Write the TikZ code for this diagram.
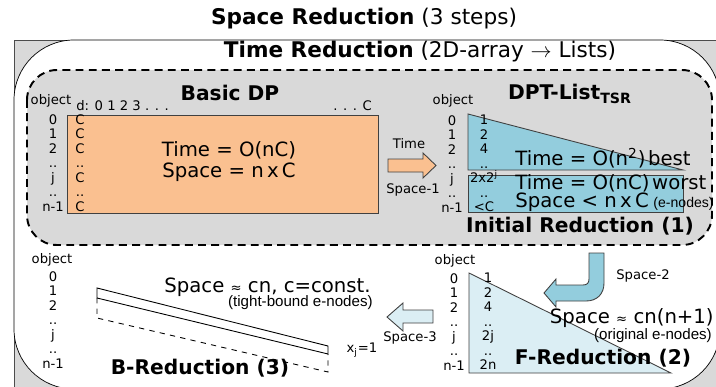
\documentclass[tikz,border=0pt]{standalone}
\usepackage{fontspec}
\setmainfont{DejaVu Sans}
\newfontfamily\notefont{Liberation Sans}
\definecolor{boxgray}{HTML}{D9D9D9}
\definecolor{dporange}{HTML}{FAC090}
\definecolor{listblue}{HTML}{93CDDD}
\definecolor{paleblue}{HTML}{DBEEF4}
\tikzset{
	head/.style={font=\fontsize{12.3}{14}\selectfont,inner sep=0pt},
	part/.style={font=\fontsize{11.5}{13}\selectfont\bfseries,inner sep=0pt},
	big/.style={font=\fontsize{11.2}{12}\selectfont,inner sep=0pt},
	lbl/.style={font=\fontsize{7.5}{8.25}\selectfont,inner sep=0pt},
	note/.style={font=\notefont\fontsize{8.6}{10}\selectfont,inner sep=0pt},
	rows/.style={lbl,align=center,anchor=north},
	outline/.style={draw=black!75,line width=0.5pt},
}
\begin{document}
\begin{tikzpicture}[x=0.2mm,y=-0.2mm]
		\useasboundingbox (0,0) rectangle (716,386);
		\clip (0,0) rectangle (716,386);
		% frames
		\draw[black!70,fill=boxgray] (14,40) rectangle (760,420);
		\draw[fill=white,rounded corners=12mm] (14,40) rectangle (720,389);
		\draw[fill=boxgray,line width=1.1pt,dash pattern=on 4.5pt off 3pt,rounded corners=6mm] (27,70) rectangle (712,245);
		\node[head](space)at(364,19) {\textbf{Space Reduction} (3 steps)};
		\node[head](time)at(420,52) {\textbf{Time Reduction} (2D-array $\rightarrow$ Lists)};
		
		% basic DP table
		\node[part](dp)at(230,93) {Basic DP};
		\node[lbl](dpobj)at(51,101) {object};
		\node[lbl,anchor=west](dpcols)at(76,106) {d: 0 1 2 3 . . .};
		\node[lbl,anchor=west](dpend)at(333,106) {. . . C};
		\draw[outline,fill=dporange] (67,115) rectangle (378,213);
		\node[rows](dprows)at(53,114) {0\\1\\2\\..\\j\\..\\n-1};
		\node[rows](dpcells)at(80,114) {C\\C\\C\\..\\C\\..\\C};
		\node[big,align=center](dpcost)at(229,162) {Time = O(nC)\\Space = n\,x\,C};
		
		% step 1
		\draw[outline,fill=dporange] (388,159) -- (423,159) -- (423,153) -- (436,165.5) -- (423,178) -- (423,172) -- (388,172) -- cycle;
		\node[lbl](step1t)at(409,144) {Time};
		\node[lbl](step1s)at(413,190) {Space-1};
		
		% DPT list
		\node[part](dpt)at(570,94) {DPT-List\textsubscript{TSR}};
		\node[lbl](dptobj)at(453,101) {object};
		\draw[outline,fill=listblue] (468,114) -- (683,170) -- (468,170) -- cycle;
		\draw[outline,fill=listblue] (468,175) rectangle (683,212);
		\node[rows](dptrows)at(452,115) {0\\1\\2\\..\\j\\..\\n-1};
		\node[rows](dptcells)at(484,115) {1\\2\\4\\..\\2x2\textsuperscript{j}\\..\\<C};
		\node[big,anchor=west](tbest)at(515,158) {Time = O(n\textsuperscript{2})\hspace{1.5pt}best};
		\node[big,anchor=west](tworst)at(515,183) {Time = O(nC)\hspace{1.5pt}worst};
		\node[big,anchor=west](slist)at(515,202) {Space < n\,x\,C};
		\node[note,font=\notefont\fontsize{8}{10}\selectfont,anchor=base east](enodes)at(slist.base -| 714,0) {(e-nodes)};
		\node[part](init)at(580,226) {Initial Reduction (1)};
		
		% step 2
		\draw[outline,fill=listblue] (589,253) -- (604,253) -- (604,283) .. controls (604,294) and (597,301) .. (586,301) -- (556,301) -- (556,307) -- (544,293) -- (556,279) -- (556,285) -- (583,285) .. controls (587,285) and (589,283) .. (589,279) -- cycle;
		\node[lbl](step2s)at(643,276) {Space-2};
		
		% F reduction
		\node[lbl](fobj)at(455,261) {object};
		\draw[outline,fill=paleblue] (469,273) -- (671,373) -- (469,373) -- cycle;
		\node[rows](frows)at(454,273) {0\\1\\2\\..\\j\\..\\n-1};
		\node[rows](fcells)at(488,273) {1\\2\\4\\..\\2j\\..\\2n};
		\node[big,anchor=east](fspace)at(714,318) {Space {\fontsize{7.5}{8}\selectfont≈} cn(n+1)};
		\node[note](fnote)at(653,336) {(original e-nodes)};
		\node[part](fred)at(603,358) {F-Reduction (2)};
		
		% step 3
		\draw[outline,fill=paleblue] (433,310) -- (403,310) -- (403,303) -- (387,317) -- (403,331) -- (403,323) -- (433,323) -- cycle;
		\node[lbl](step3s)at(410,338) {Space-3};
		
		% B reduction
		\node[lbl](bobj)at(52,260) {object};
		\node[rows](brows)at(53,271) {0\\1\\2\\..\\j\\..\\n-1};
		\draw[line width=0.5pt] (97,288) -- (328,346) -- (328,354) -- (97,298) -- cycle;
		\draw[line width=0.5pt,dashed] (97,298) -- (97,318) -- (328,372) -- (328,354);
		\node[big,anchor=east](bspace)at(371,287) {Space {\fontsize{7.5}{8}\selectfont≈} cn, c=const.};
		\node[note,anchor=east](bnote)at(373,303) {(tight-bound e-nodes)};
		\node[lbl](bx)at(362,350) {x\textsubscript{j}=1};
		\node[part](bred)at(200,368) {B-Reduction (3)};
	\end{tikzpicture}
\end{document}
